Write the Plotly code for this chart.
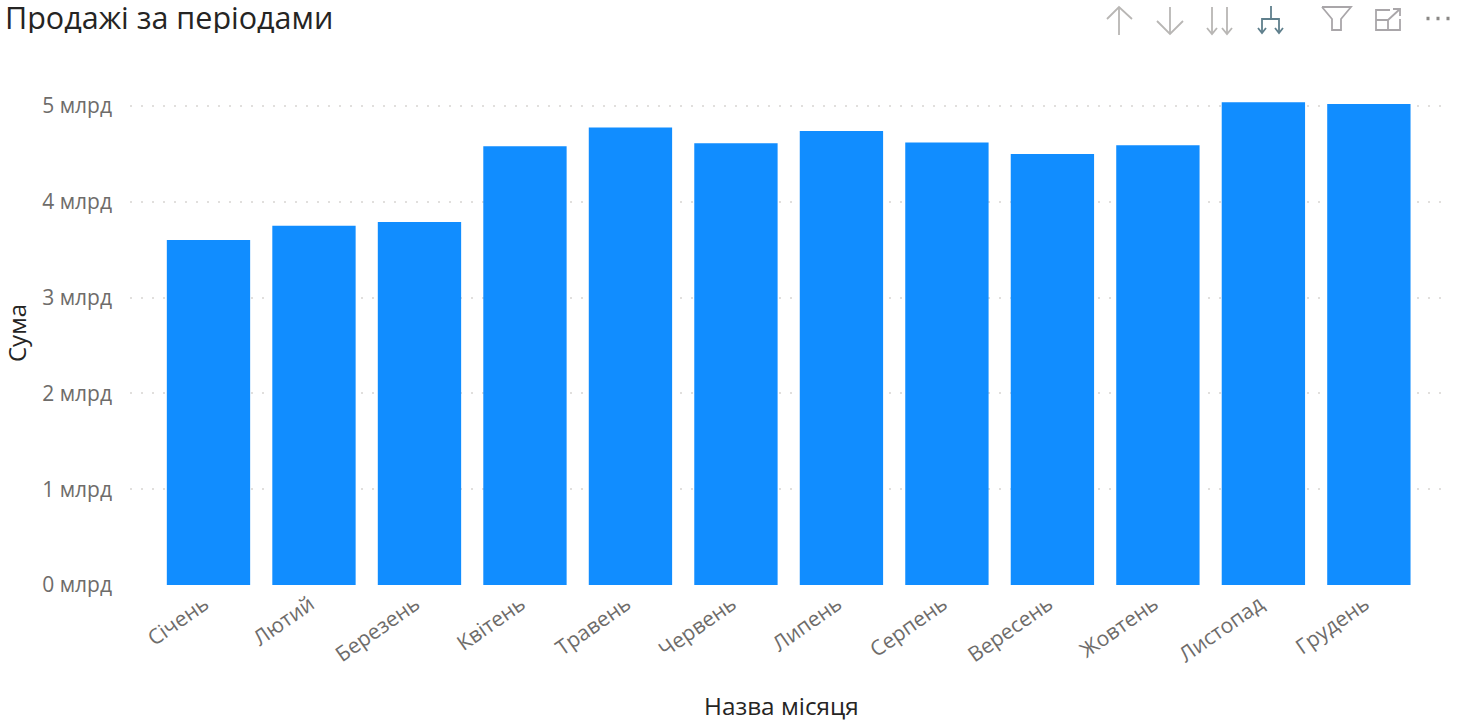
import plotly.graph_objects as go

W = 1458
H = 720
LEFT = 130
RIGHT = 10
TOP = 87
BOTTOM = 135

months = [
    "Січень", "Лютий", "Березень", "Квітень", "Травень", "Червень",
    "Липень", "Серпень", "Вересень", "Жовтень", "Листопад", "Грудень",
]
sales = [3.60, 3.75, 3.79, 4.58, 4.775, 4.61, 4.74, 4.62, 4.50, 4.59, 5.04, 5.02]
y_ticks = [0, 1, 2, 3, 4, 5]
y_tick_labels = ["0 млрд", "1 млрд", "2 млрд", "3 млрд", "4 млрд", "5 млрд"]

FONT = "Open Sans"
BLUE = "#118DFF"
GREY = "#6E6C6A"
ICON_GREY = "#B8B6B4"


def px_x(x):
    return (x - LEFT) / (W - LEFT - RIGHT)


def px_y(y):
    return 1 - (y - TOP) / (H - TOP - BOTTOM)


def icon(points, color=ICON_GREY, width=1.8):
    # toolbar glyph, given as a polyline in page pixels
    path = "M " + " L ".join(f"{px_x(x):.5f},{px_y(y):.5f}" for x, y in points)
    return dict(
        type="path", xref="paper", yref="paper", path=path,
        line=dict(color=color, width=width),
    )


fig = go.Figure(
    go.Bar(x=months, y=sales, marker=dict(color=BLUE, line_width=0), width=0.79)
)

shapes = [
    # up
    icon([(1119, 35), (1119, 7)]),
    icon([(1107, 19), (1119, 7), (1132, 19)]),
    # down
    icon([(1170, 7), (1170, 34)]),
    icon([(1157, 21), (1170, 34), (1183, 21)]),
    # double down
    icon([(1212, 7), (1212, 34)]),
    icon([(1207, 28), (1212, 34), (1217, 28)]),
    icon([(1227, 7), (1227, 34)]),
    icon([(1222, 28), (1227, 34), (1232, 28)]),
    # expand hierarchy
    icon([(1271, 6), (1271, 19)], "#5F7F8C"),
    icon([(1262, 33), (1262, 19), (1279, 19), (1279, 33)], "#5F7F8C"),
    icon([(1258, 28), (1262, 33), (1266, 28)], "#5F7F8C"),
    icon([(1275, 28), (1279, 33), (1283, 28)], "#5F7F8C"),
    # filter
    icon([(1322, 7), (1351, 7), (1341, 19), (1341, 30), (1332, 30), (1332, 19), (1322, 7)], "#A9A6A9"),
    # focus mode
    icon([(1390, 10), (1376, 10), (1376, 30), (1400, 30), (1400, 19)], "#A9A6A9"),
    icon([(1376, 20), (1388, 20), (1388, 30)], "#A9A6A9"),
    icon([(1388, 20), (1400, 9)], "#A9A6A9"),
    icon([(1393, 9), (1400, 9), (1400, 16)], "#A9A6A9"),
    # more
    icon([(1426.5, 18.5), (1429.5, 18.5)], "#8A8886", 3.5),
    icon([(1436.5, 18.5), (1439.5, 18.5)], "#8A8886", 3.5),
    icon([(1446.5, 18.5), (1449.5, 18.5)], "#8A8886", 3.5),
]

fig.update_layout(
    width=W,
    height=H,
    margin=dict(l=LEFT, r=RIGHT, t=TOP, b=BOTTOM, pad=0),
    paper_bgcolor="white",
    plot_bgcolor="white",
    font=dict(family=FONT, color=GREY, size=21),
    showlegend=False,
    shapes=shapes,
    annotations=[
        dict(
            text="Продажі за періодами", xref="paper", yref="paper",
            x=px_x(3), y=px_y(16.5), xanchor="left", yanchor="middle", showarrow=False,
            height=33,
            font=dict(family=FONT, size=30.5, color="#252423"),
        ),
        dict(
            text="Сума", xref="paper", yref="paper",
            x=px_x(16), y=px_y(333), xanchor="center", yanchor="middle", showarrow=False,
            textangle=-90, font=dict(family=FONT, size=24, color="#252423"),
        ),
        dict(
            text="Назва місяця", xref="paper", yref="paper",
            x=px_x(781), y=px_y(705), xanchor="center", yanchor="middle", showarrow=False,
            height=30,
            font=dict(family=FONT, size=24.3, color="#252423"),
        ),
    ],
)

fig.update_xaxes(
    type="category",
    range=[-0.744, 11.75],
    tickangle=-35,
    showgrid=False,
    showline=False,
    zeroline=False,
    ticks="",
    ticklabelshift=-4,
    ticklabelstandoff=2,
    tickfont=dict(family=FONT, size=21, color=GREY),
)

fig.update_yaxes(
    range=[0, (585 - TOP) / 95.8],
    tickmode="array",
    tickvals=y_ticks,
    ticktext=y_tick_labels,
    showgrid=True,
    gridcolor="#E1DFDD",
    griddash="2px,9px",
    gridwidth=1.5,
    zeroline=False,
    showline=False,
    ticks="",
    ticklabelstandoff=17,
    tickfont=dict(family=FONT, size=21, color=GREY),
)

# the page body has a default margin that would push the chart off by 8px
fig.write_html(
    "out.html",
    config=dict(displayModeBar=False),
    post_script="document.body.style.margin = '0';",
)
